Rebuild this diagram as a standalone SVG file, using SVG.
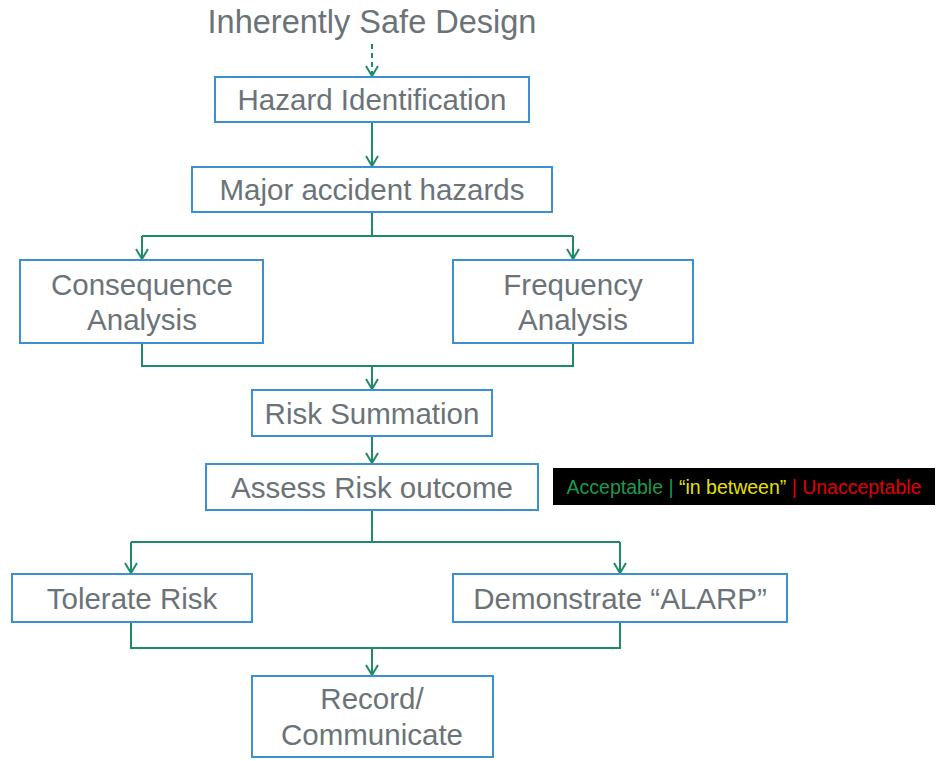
<svg xmlns="http://www.w3.org/2000/svg" width="940" height="761" viewBox="0 0 940 761">
<defs>
<style>
.box{fill:#fff;stroke:#3b8fd5;stroke-width:2}
.t{font-family:"Liberation Sans",Arial,sans-serif;font-size:29.5px;fill:#6b7378;text-anchor:middle}
.c{fill:none;stroke:#1f8a68;stroke-width:2}
.k{font-family:"Liberation Sans",Arial,sans-serif;font-size:19.5px}
</style>
<marker id="av" viewBox="0 0 14 12" refX="7" refY="11" markerWidth="14" markerHeight="12" markerUnits="userSpaceOnUse">
<path d="M1,1 L7,11 L13,1" fill="none" stroke="#1f8a68" stroke-width="2"/>
</marker>
</defs>
<rect width="940" height="761" fill="#fff"/>
<text id="title" class="t" x="372" y="33" style="font-size:32.5px">Inherently Safe Design</text>
<g id="connectors">
<path class="c" d="M372,44 V76" stroke-dasharray="5,4" marker-end="url(#av)"/>
<path class="c" d="M372,122 V166" marker-end="url(#av)"/>
<path class="c" d="M372,212 V236 M142,236 H573"/>
<path class="c" d="M142,236 V259" marker-end="url(#av)"/>
<path class="c" d="M573,236 V259" marker-end="url(#av)"/>
<path class="c" d="M142,343 V366 H573 V343"/>
<path class="c" d="M372,366 V389" marker-end="url(#av)"/>
<path class="c" d="M372,436 V463" marker-end="url(#av)"/>
<path class="c" d="M372,510 V542 M131,542 H620"/>
<path class="c" d="M131,542 V573" marker-end="url(#av)"/>
<path class="c" d="M620,542 V573" marker-end="url(#av)"/>
<path class="c" d="M131,622 V648 H620 V622"/>
<path class="c" d="M372,648 V675" marker-end="url(#av)"/>
</g>
<g id="hazard-identification">
<rect class="box" x="215" y="77" width="314" height="45"/>
<text class="t" x="372" y="110">Hazard Identification</text>
</g>
<g id="major-accident-hazards">
<rect class="box" x="192" y="167" width="360" height="45"/>
<text class="t" x="372" y="200">Major accident hazards</text>
</g>
<g id="consequence-analysis">
<rect class="box" x="20" y="260" width="243" height="83"/>
<text class="t" x="142" y="295">Consequence</text>
<text class="t" x="142" y="330">Analysis</text>
</g>
<g id="frequency-analysis">
<rect class="box" x="453" y="260" width="240" height="83"/>
<text class="t" x="573" y="295">Frequency</text>
<text class="t" x="573" y="330">Analysis</text>
</g>
<g id="risk-summation">
<rect class="box" x="252" y="390" width="240" height="46"/>
<text class="t" x="372" y="424">Risk Summation</text>
</g>
<g id="assess-risk-outcome">
<rect class="box" x="206" y="464" width="332" height="46"/>
<text class="t" x="372" y="498">Assess Risk outcome</text>
</g>
<g id="legend">
<rect x="553" y="468" width="382" height="37" fill="#000"/>
<text class="k" x="744" y="494" text-anchor="middle"><tspan fill="#1a9a4c">Acceptable | </tspan><tspan fill="#e6e000">“in between”</tspan><tspan fill="#e00000"> | Unacceptable</tspan></text>
</g>
<g id="tolerate-risk">
<rect class="box" x="12" y="574" width="240" height="48"/>
<text class="t" x="132" y="609">Tolerate Risk</text>
</g>
<g id="demonstrate-alarp">
<rect class="box" x="453" y="574" width="334" height="48"/>
<text class="t" x="620" y="609">Demonstrate “ALARP”</text>
</g>
<g id="record-communicate">
<rect class="box" x="252" y="676" width="241" height="81"/>
<text class="t" x="372" y="709">Record/</text>
<text class="t" x="372" y="745">Communicate</text>
</g>
</svg>
